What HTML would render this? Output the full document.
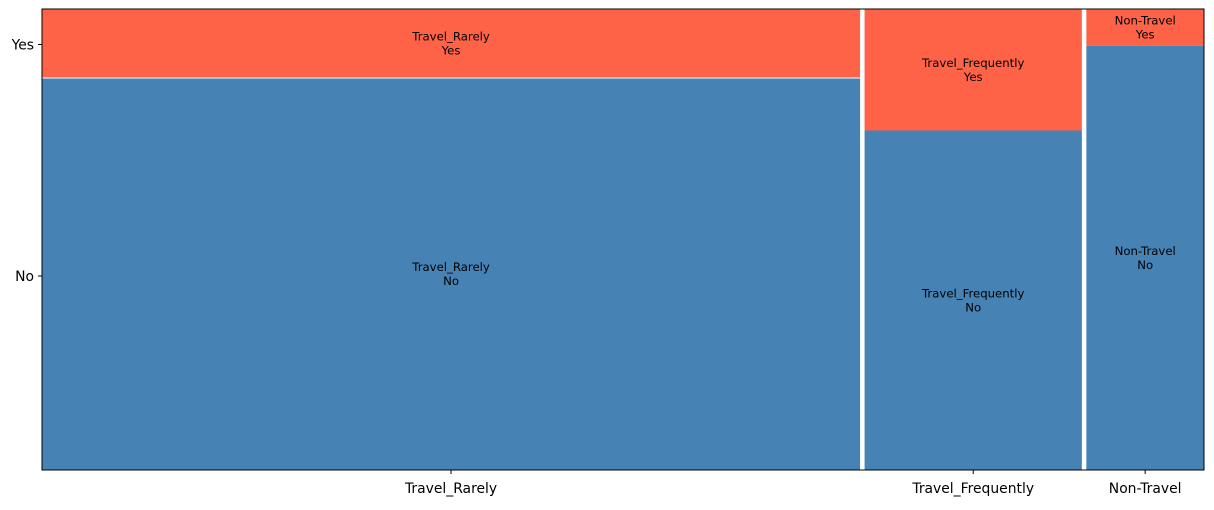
<!DOCTYPE html>
<html><head><meta charset="utf-8"><style>
html,body{margin:0;padding:0;background:#fff;}
svg text{font-family:"DejaVu Sans","Liberation Sans",sans-serif;}
</style></head><body>
<svg id="chart" width="1214" height="505"></svg>
<script>
const categories = ["Travel_Rarely", "Travel_Frequently", "Non-Travel"];
const noCounts = [887, 204, 138];
const yesCounts = [156, 73, 12];
const rowLabels = ["No", "Yes"];

const NS = "http://www.w3.org/2000/svg";
const svg = document.getElementById("chart");
const L = 42, R = 1204, T = 9, B = 470;
const gap = 4.5;
const totals = categories.map((c, i) => noCounts[i] + yesCounts[i]);
const grand = totals.reduce((a, b) => a + b, 0);
const usableW = (R - L) - gap * (categories.length - 1);
function xw(v) { return v / grand * usableW; }
function yh(frac) { return frac * (B - T); }

function mk(tag, attrs, parent) {
  const e = document.createElementNS(NS, tag);
  for (const k in attrs) e.setAttribute(k, attrs[k]);
  (parent || svg).appendChild(e);
  return e;
}
function label(x, y, lines, size, parent) {
  const t = mk("text", {x: x, y: y, "font-size": size, "text-anchor": "middle", fill: "#000"}, parent);
  lines.forEach((s, i) => {
    const sp = mk("tspan", {x: x, dy: i === 0 ? (-(lines.length - 1) * 0.6 + 0.35) + "em" : "1.2em"}, t);
    sp.textContent = s;
  });
  return t;
}

let x = L;
let firstYesMid = null, firstNoMid = null;
categories.forEach((c, i) => {
  const w = xw(totals[i]);
  const yesFrac = yesCounts[i] / totals[i];
  const yesH = yh(yesFrac);
  const g = mk("g", {});
  
  
  const ry = mk("rect", {x: x, y: T, width: w, height: yesH, fill: "#ff6347"}, g);
  
  
  const rn = mk("rect", {x: x, y: T + yesH, width: w, height: B - T - yesH, fill: "#4682b4"}, g);
  
  
  if (i === 0) mk("line", {x1: x, x2: x + w, y1: T + yesH, y2: T + yesH, stroke: "#fff", "stroke-width": 1}, g);
  const cx = x + w / 2;
  const ly = label(cx, T + yesH / 2, [c, "Yes"], 11.7, g);
  
  
  const ln = label(cx, T + yesH + (B - T - yesH) / 2, [c, "No"], 11.7, g);
  
  
  mk("line", {x1: cx, x2: cx, y1: B, y2: B + 4, stroke: "#000"});
  const xt = mk("text", {x: cx, y: B + 23, "font-size": 13.9, "text-anchor": "middle"});
  xt.textContent = c;
  
  
  if (i === 0) { firstYesMid = T + yesH / 2; firstNoMid = T + yesH + (B - T - yesH) / 2; }
  x += w + gap;
});

[[rowLabels[0], firstNoMid + 2], [rowLabels[1], firstYesMid + 1]].forEach(([s, y]) => {
  mk("line", {x1: L - 4, x2: L, y1: y, y2: y, stroke: "#000"});
  const t = mk("text", {x: L - 8, y: y + 5, "font-size": 13.9, "text-anchor": "end"});
  t.textContent = s;
  
  
});

const frame = mk("rect", {x: L, y: T, width: R - L, height: B - T, fill: "none", stroke: "#000", "stroke-width": 1});


</script>
</body></html>
